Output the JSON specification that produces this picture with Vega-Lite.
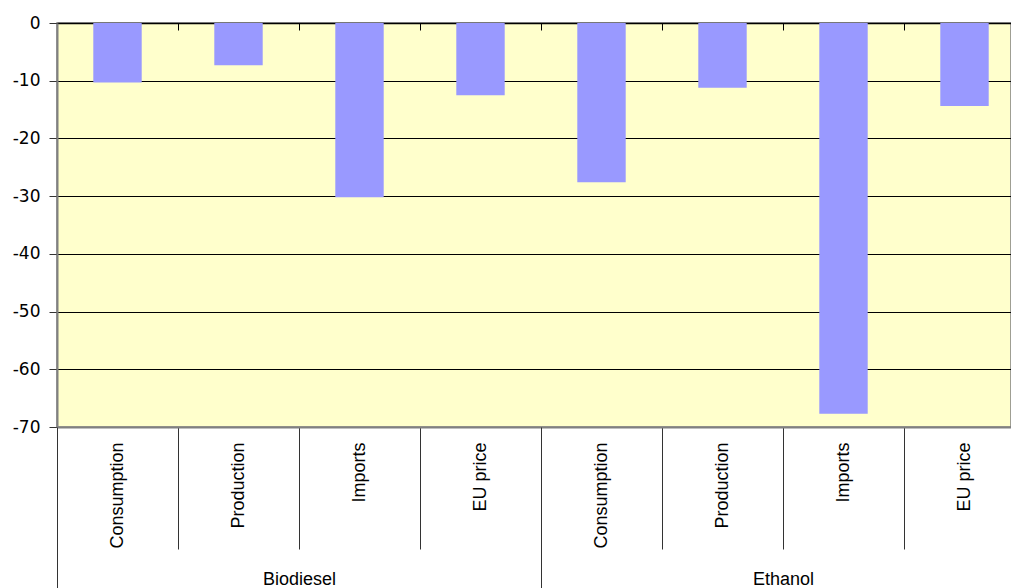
{
  "$schema": "https://vega.github.io/schema/vega-lite/v6.json",
  "autosize": {"type": "none"},
  "padding": {"left": 57, "top": 23, "right": 0, "bottom": 161},
  "width": 954,
  "height": 404,
  "background": "white",
  "config": {
    "view": {"fill": "#FFFFCC", "stroke": "#808080", "strokeWidth": 1.5},
    "axis": {"labelColor": "#000000", "tickColor": "#000000"}
  },
  "datasets": {
    "bars": [
      {"fuel": "Biodiesel", "item": "Consumption", "value": -10.3},
      {"fuel": "Biodiesel", "item": "Production", "value": -7.3},
      {"fuel": "Biodiesel", "item": "Imports", "value": -30.2},
      {"fuel": "Biodiesel", "item": "EU price", "value": -12.5},
      {"fuel": "Ethanol", "item": "Consumption", "value": -27.6},
      {"fuel": "Ethanol", "item": "Production", "value": -11.2},
      {"fuel": "Ethanol", "item": "Imports", "value": -67.7},
      {"fuel": "Ethanol", "item": "EU price", "value": -14.4}
    ],
    "groups": [
      {"fuel": "Biodiesel"},
      {"fuel": "Ethanol"}
    ]
  },
  "layer": [
    {
      "data": {"name": "bars"},
      "transform": [{"calculate": "datum.fuel + '|' + datum.item", "as": "key"}],
      "mark": {"type": "bar", "color": "#9999FF", "width": {"band": 0.4}},
      "encoding": {
        "x": {
          "field": "key", "type": "nominal", "sort": null,
          "scale": {"range": [0, 968], "paddingInner": 0, "paddingOuter": 0},
          "axis": {
            "orient": "bottom", "title": null,
            "labelExpr": "split(datum.label, '|')[1]",
            "labelAngle": 270, "labelFont": "Liberation Sans", "labelFontSize": 18,
            "tickBand": "extent", "tickSize": 122, "tickColor": "#333333", "tickWidth": 1,
            "labelPadding": -107,
            "domainColor": "#808080", "domainWidth": 2
          }
        },
        "y": {
          "field": "value", "type": "quantitative",
          "scale": {"domain": [-70, 0], "nice": false},
          "axis": {
            "title": null, "values": [0, -10, -20, -30, -40, -50, -60, -70],
            "labelExpr": "toString(datum.value)",
            "labelFont": "DejaVu Sans", "labelFontSize": 17,
            "tickSize": 8, "labelPadding": 9, "tickColor": "#333333",
            "grid": true, "gridColor": "#000000", "gridWidth": 1,
            "domainColor": "#808080", "domainWidth": 2
          }
        }
      }
    },
    {
      "data": {"name": "bars"},
      "transform": [{"calculate": "datum.fuel + '|' + datum.item", "as": "key"}],
      "mark": {"type": "bar", "opacity": 0},
      "encoding": {
        "x": {
          "field": "key", "type": "nominal", "sort": null,
          "scale": {"range": [0, 968], "paddingInner": 0, "paddingOuter": 0},
          "axis": {
            "orient": "top", "title": null, "labels": false,
            "tickBand": "extent", "tickSize": -7, "tickColor": "#000000",
            "domain": true, "domainColor": "#000000", "domainWidth": 1.5
          }
        },
        "y": {"field": "value", "type": "quantitative"}
      }
    },
    {
      "data": {"name": "groups"},
      "mark": {"type": "bar", "opacity": 0},
      "encoding": {
        "x": {
          "field": "fuel", "type": "nominal", "sort": null,
          "scale": {"range": [0, 968], "paddingInner": 0, "paddingOuter": 0},
          "axis": {
            "orient": "bottom", "title": null, "labelAngle": 0,
            "labelFont": "Liberation Sans", "labelFontSize": 18,
            "labelBaseline": "alphabetic",
            "tickBand": "extent", "tickSize": 170, "tickColor": "#333333",
            "labelPadding": -13, "domain": false
          }
        }
      }
    }
  ],
  "resolve": {"scale": {"x": "independent"}, "axis": {"x": "independent"}}
}
